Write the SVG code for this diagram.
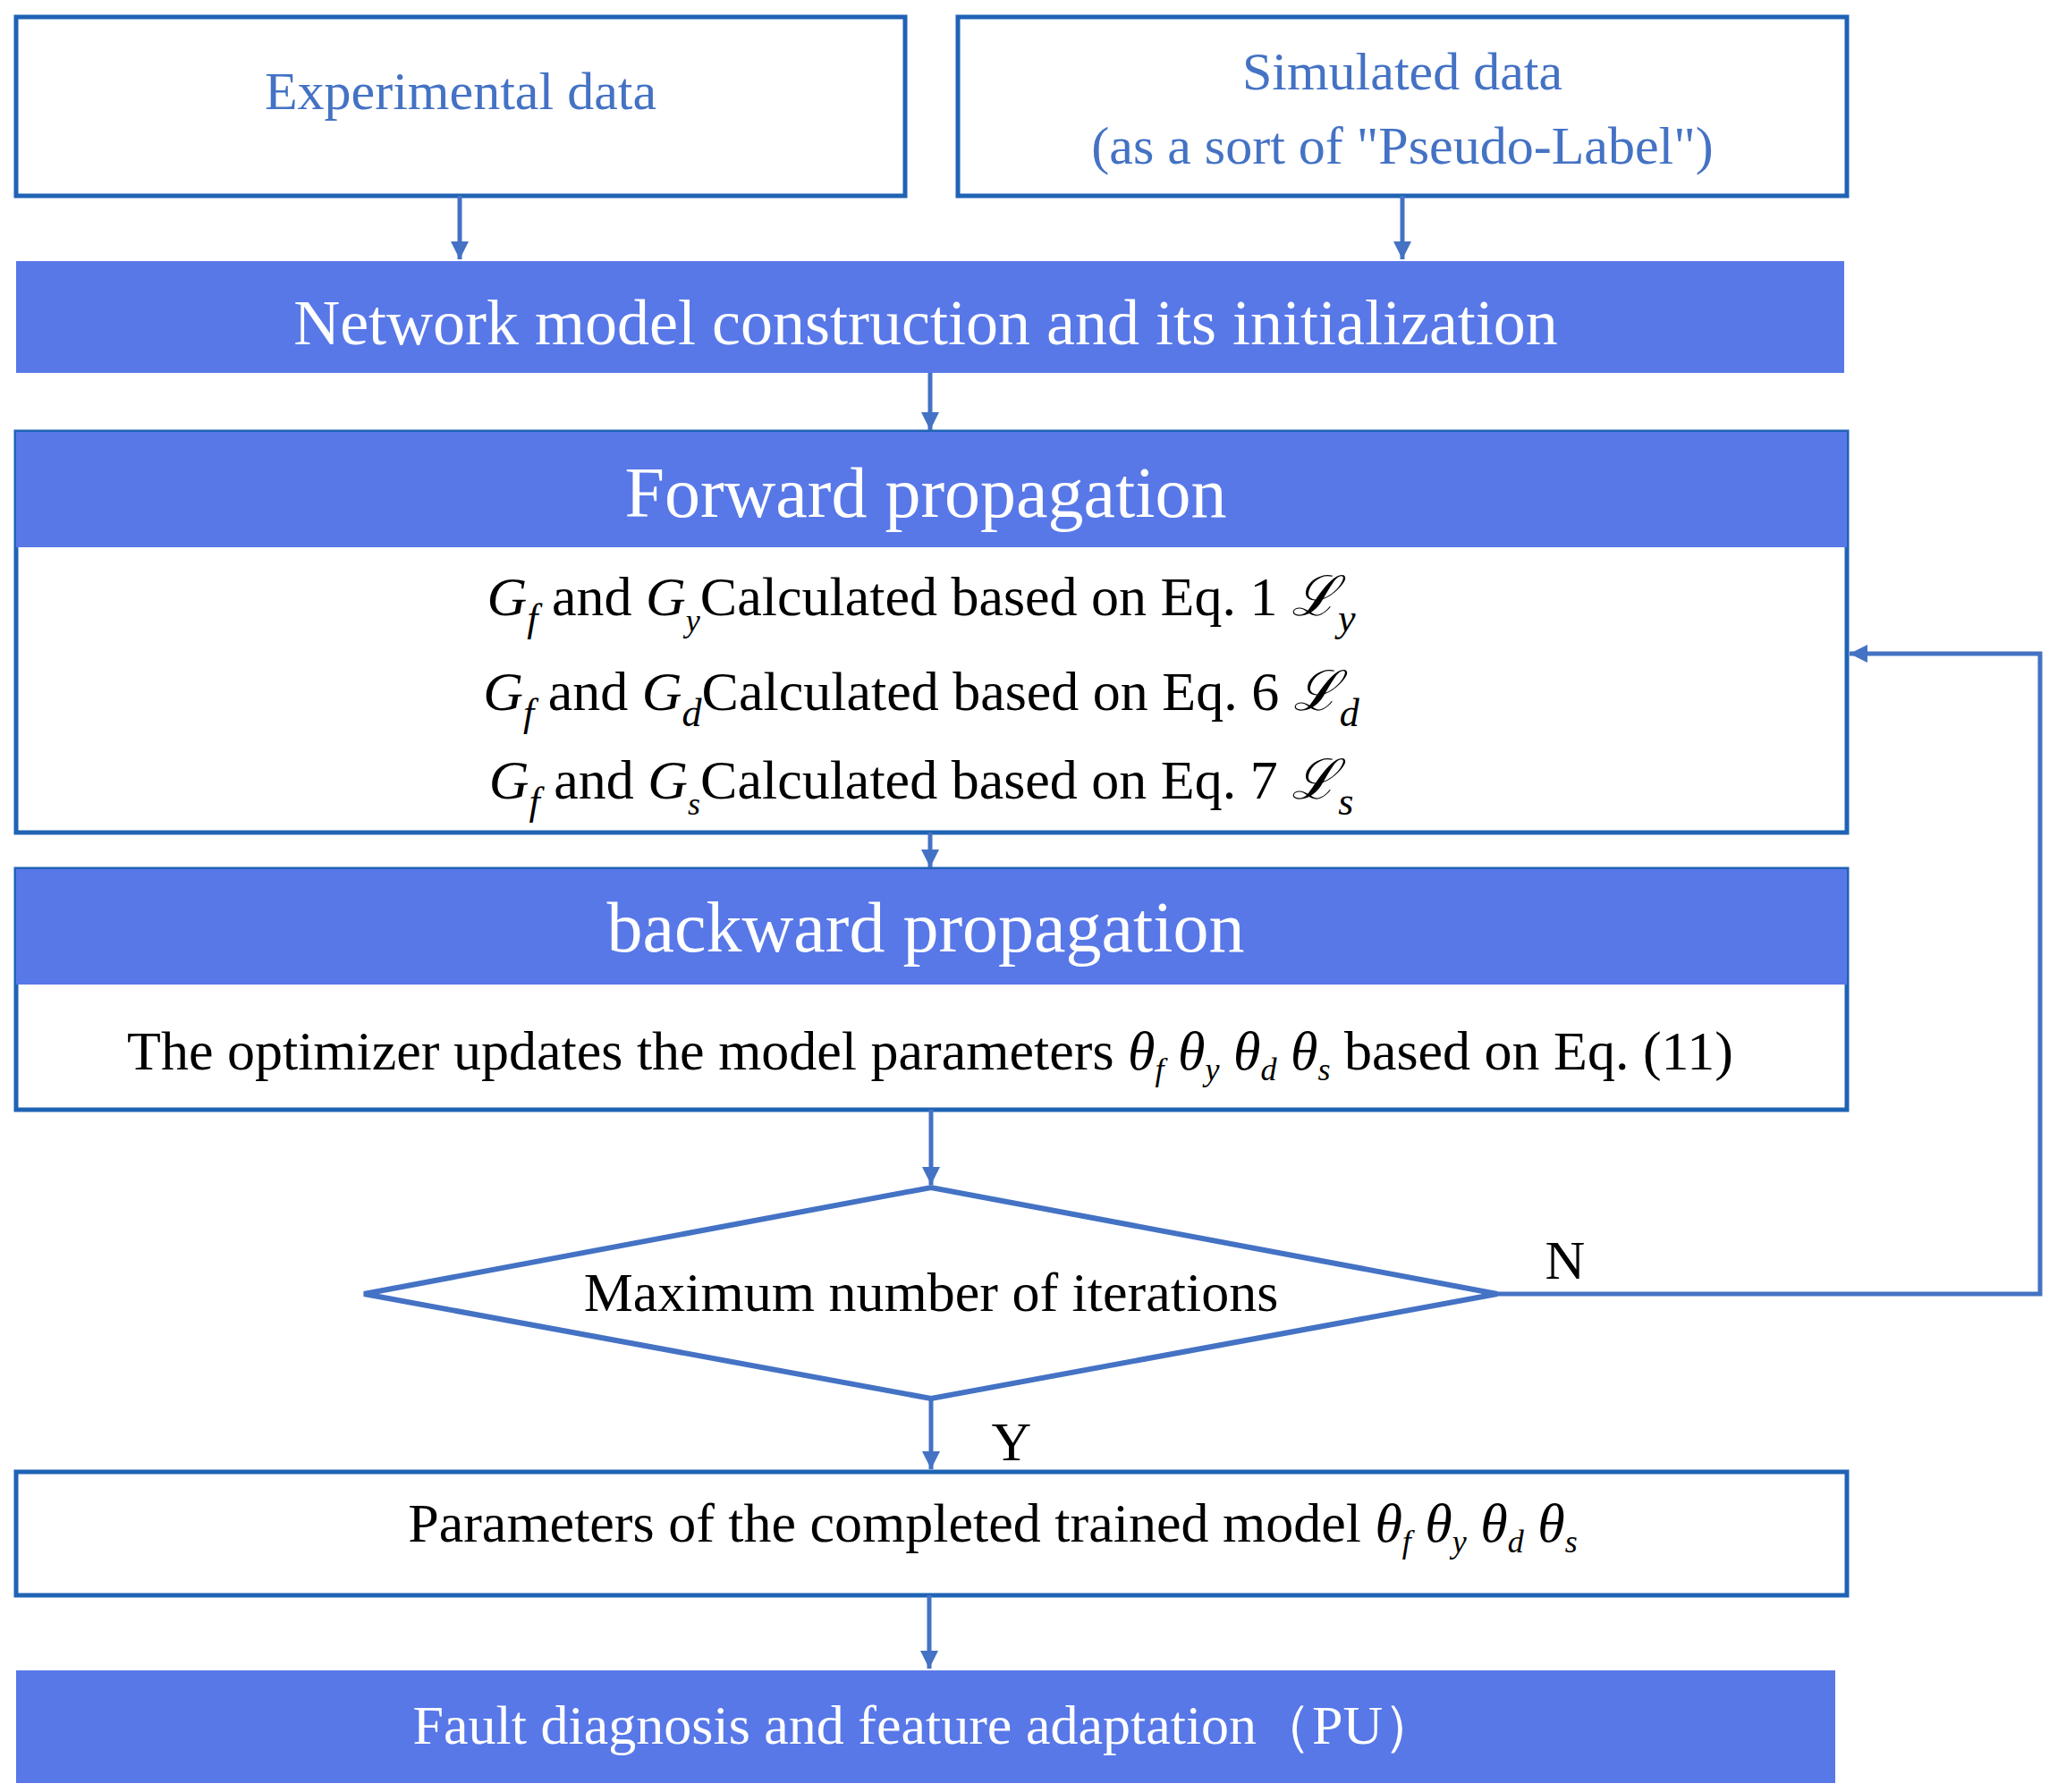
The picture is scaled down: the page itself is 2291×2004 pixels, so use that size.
<svg xmlns="http://www.w3.org/2000/svg" width="2291" height="2004" viewBox="0 0 2291 2004">
<defs>
<marker id="ah" viewBox="0 0 10 10" refX="10" refY="5" markerWidth="4" markerHeight="6" orient="auto" markerUnits="strokeWidth"><path d="M0,0 L10,5 L0,10 z" fill="#4472c4"/></marker>
<style>
.box{fill:#fff;stroke:#1f63b5;stroke-width:5}
.fill{fill:#5878e8}
.t{font-family:"Liberation Serif",serif;text-anchor:middle}
.w{fill:#fff}
.b{fill:#4472c4}
.k{fill:#000}
.i{font-style:italic}
.c{stroke:#4472c4;stroke-width:5;fill:none}
</style>
</defs>
<rect width="2291" height="2004" fill="#fff"/>
<g id="experimental"><rect class="box" x="18" y="19" width="994" height="200"/><text class="t b" x="515" y="122" font-size="60">Experimental data</text></g>
<g id="simulated"><rect class="box" x="1071" y="19" width="994" height="200"/><text class="t b" x="1568" y="100" font-size="60">Simulated data</text><text class="t b" x="1568" y="183" font-size="60">(as a sort of "Pseudo-Label")</text></g>
<g id="network"><rect class="fill" x="18" y="292" width="2044" height="125"/><text class="t w" x="1035" y="385" font-size="72">Network model construction and its initialization</text></g>
<g id="forward"><rect class="box" x="18" y="483" width="2047" height="448"/><rect class="fill" x="18" y="483" width="2047" height="129"/><text class="t w" x="1035" y="578" font-size="80">Forward propagation</text>
<text class="t k" x="1030" y="688" font-size="62"><tspan class="i">G</tspan><tspan class="i" font-size="44" dy="18">f</tspan><tspan dy="-18">  and </tspan><tspan class="i">G</tspan><tspan class="i" font-size="36" dy="18">y</tspan><tspan dy="-18">Calculated based on Eq. 1 </tspan><tspan class="i">ℒ</tspan><tspan class="i" font-size="44" dy="18">y</tspan></text>
<text class="t k" x="1030" y="794" font-size="62"><tspan class="i">G</tspan><tspan class="i" font-size="44" dy="18">f</tspan><tspan dy="-18">  and </tspan><tspan class="i">G</tspan><tspan class="i" font-size="44" dy="18">d</tspan><tspan dy="-18">Calculated based on Eq. 6 </tspan><tspan class="i">ℒ</tspan><tspan class="i" font-size="44" dy="18">d</tspan></text>
<text class="t k" x="1030" y="893" font-size="62"><tspan class="i">G</tspan><tspan class="i" font-size="44" dy="18">f</tspan><tspan dy="-18">  and  </tspan><tspan class="i">G</tspan><tspan class="i" font-size="36" dy="18">s</tspan><tspan dy="-18">Calculated based on Eq. 7 </tspan><tspan class="i">ℒ</tspan><tspan class="i" font-size="44" dy="18">s</tspan></text>
</g>
<g id="backward"><rect class="box" x="18" y="972" width="2047" height="269"/><rect class="fill" x="18" y="972" width="2047" height="129"/><text class="t w" x="1035" y="1064" font-size="80">backward propagation</text>
<text class="t k" x="1040" y="1196" font-size="62">The optimizer updates the model parameters <tspan class="i">θ</tspan><tspan class="i" font-size="36" dy="12">f</tspan><tspan class="i" dy="-12"> θ</tspan><tspan class="i" font-size="36" dy="12">y</tspan><tspan class="i" dy="-12"> θ</tspan><tspan class="i" font-size="36" dy="12">d</tspan><tspan class="i" dy="-12"> θ</tspan><tspan class="i" font-size="36" dy="12">s</tspan><tspan dy="-12">  based on Eq. (11)</tspan></text></g>
<g id="decision"><polygon points="407,1447 1041,1328 1674,1447 1041,1564" fill="#fff" stroke="#4472c4" stroke-width="6"/><text class="t k" x="1041" y="1466" font-size="62">Maximum number of iterations</text></g>
<g id="params"><rect class="box" x="18" y="1646" width="2047" height="138"/><text class="t k" x="1110" y="1724" font-size="62">Parameters of the completed trained model <tspan class="i">θ</tspan><tspan class="i" font-size="36" dy="12">f</tspan><tspan class="i" dy="-12"> θ</tspan><tspan class="i" font-size="36" dy="12">y</tspan><tspan class="i" dy="-12"> θ</tspan><tspan class="i" font-size="36" dy="12">d</tspan><tspan class="i" dy="-12"> θ</tspan><tspan class="i" font-size="36" dy="12">s</tspan></text></g>
<g id="fault"><rect class="fill" x="18" y="1868" width="2034" height="126"/><text class="t w" x="1035" y="1950" font-size="62">Fault diagnosis and feature adaptation（PU）</text></g>
<g id="connectors">
<line class="c" x1="514" y1="219" x2="514" y2="290" marker-end="url(#ah)"/>
<line class="c" x1="1568" y1="219" x2="1568" y2="290" marker-end="url(#ah)"/>
<line class="c" x1="1040" y1="417" x2="1040" y2="481" marker-end="url(#ah)"/>
<line class="c" x1="1040" y1="931" x2="1040" y2="970" marker-end="url(#ah)"/>
<line class="c" x1="1041" y1="1241" x2="1041" y2="1325" marker-end="url(#ah)"/>
<line class="c" x1="1041" y1="1564" x2="1041" y2="1643" marker-end="url(#ah)"/>
<line class="c" x1="1039" y1="1784" x2="1039" y2="1866" marker-end="url(#ah)"/>
<polyline class="c" points="1674,1447 2281,1447 2281,731 2068,731" marker-end="url(#ah)"/>
<text class="t k" x="1750" y="1430" font-size="62">N</text>
<text class="t k" x="1131" y="1633" font-size="62">Y</text>
</g>
</svg>
